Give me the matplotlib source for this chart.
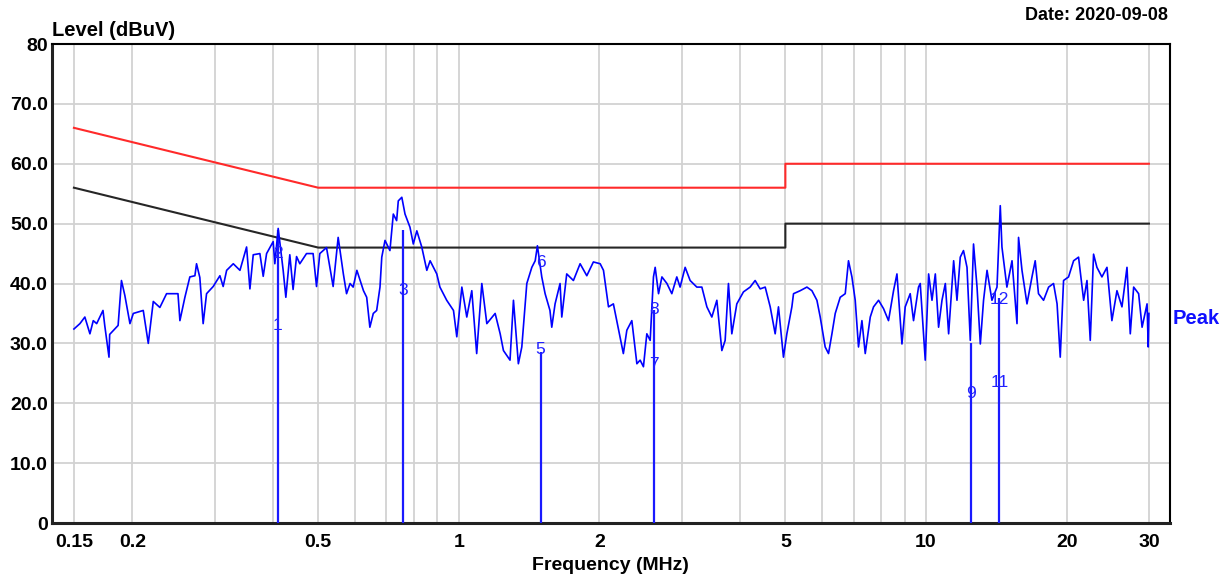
import matplotlib

matplotlib.use("Agg")
import matplotlib.pyplot as plt
from matplotlib.ticker import NullLocator

plt.rcParams["font.family"] = ["Liberation Sans", "DejaVu Sans"]

# measured peak trace (MHz, dBuV)
trace_freq = [
    0.150, 0.1545, 0.1583, 0.1623, 0.165, 0.1678, 0.1731, 0.1746, 0.1783, 0.1789,
    0.1865, 0.1896, 0.1928, 0.1977, 0.201, 0.2111, 0.2164, 0.2218, 0.2291, 0.2368,
    0.2505, 0.2529, 0.2592, 0.2656, 0.2723, 0.2745, 0.279, 0.2836, 0.2884, 0.298,
    0.308, 0.313, 0.3184, 0.329, 0.34, 0.3513, 0.3571, 0.363, 0.3751, 0.3813,
    0.3877, 0.4005, 0.4038, 0.4105, 0.4207, 0.4263, 0.4347, 0.4418, 0.4494, 0.4567,
    0.472, 0.4876, 0.4959, 0.504, 0.5209, 0.5382, 0.5517,
    0.566, 0.575, 0.585, 0.594, 0.605, 0.615, 0.625, 0.635, 0.645, 0.656,
    0.667, 0.678, 0.684, 0.695, 0.712, 0.724, 0.736, 0.742, 0.755, 0.767,
    0.786, 0.799, 0.813, 0.833, 0.854, 0.868, 0.897, 0.911, 0.942, 0.974,
    0.990, 1.015, 1.040, 1.066, 1.092, 1.120, 1.148, 1.196, 1.226, 1.246,
    1.287, 1.309, 1.341, 1.364, 1.398, 1.433, 1.457, 1.473, 1.505, 1.530,
    1.567, 1.581, 1.607, 1.647, 1.661, 1.702, 1.759, 1.818, 1.879, 1.941,
    2.007, 2.040, 2.091, 2.142, 2.178, 2.250, 2.289, 2.346, 2.405,
    2.444, 2.484, 2.526, 2.568, 2.610, 2.632, 2.676, 2.721, 2.789, 2.857,
    2.928, 2.976, 3.051, 3.127, 3.232, 3.313, 3.396, 3.480, 3.567, 3.656,
    3.716, 3.777, 3.840, 3.936, 4.067, 4.203, 4.308, 4.416, 4.527, 4.640,
    4.755, 4.833, 4.953, 5.037, 5.163, 5.205, 5.379, 5.560, 5.699, 5.841,
    5.937, 6.084, 6.185, 6.290, 6.393, 6.552, 6.716, 6.825, 6.941, 7.055,
    7.170, 7.292, 7.412, 7.598, 7.722, 7.916, 8.112, 8.313, 8.522, 8.666,
    8.882, 9.026, 9.251, 9.404, 9.638,
    9.720, 9.963, 10.13, 10.30, 10.47, 10.64, 10.82, 11.00, 11.18, 11.46,
    11.65, 11.84, 12.03, 12.24, 12.44, 12.64, 12.86, 13.07, 13.28, 13.51,
    13.84, 14.19, 14.42, 14.54, 14.90, 15.28, 15.66, 15.78, 16.05, 16.45,
    16.86, 17.13, 17.41, 17.85, 18.30, 18.75, 19.08, 19.38, 19.70, 20.19,
    20.70, 21.21, 21.75, 22.11, 22.47, 22.84, 23.22, 23.80, 24.40, 25.00,
    25.63, 26.27, 26.93, 27.37, 27.83, 28.52, 29.01, 29.73, 29.90, 30.00,
]
trace_level = [
    32.4, 33.3, 34.4, 31.6, 33.8, 33.3, 35.5, 33.0, 27.7, 31.5,
    33.0, 40.5, 38.0, 33.3, 35.0, 35.5, 30.0, 37.0, 36.0, 38.3,
    38.3, 33.8, 37.7, 41.1, 41.3, 43.3, 41.0, 33.3, 38.3, 39.5,
    41.3, 39.5, 42.2, 43.3, 42.2, 46.1, 39.1, 44.8, 45.0, 41.2,
    45.0, 47.0, 43.3, 49.2, 42.2, 37.7, 44.8, 39.0, 44.5, 43.3,
    45.0, 45.0, 39.5, 45.0, 46.0, 39.5, 47.7,
    41.6, 38.3, 40.0, 39.4, 42.2, 40.5, 38.8, 37.7, 32.7, 35.0,
    35.5, 39.4, 44.4, 47.2, 45.5, 51.6, 50.5, 53.8, 54.4, 51.6,
    49.4, 46.6, 48.8, 46.1, 42.2, 43.8, 41.6, 39.4, 37.2, 35.5,
    31.1, 39.4, 34.4, 38.8, 28.3, 40.0, 33.3, 35.0, 31.6, 28.8,
    27.2, 37.2, 26.6, 29.4, 40.0, 42.7, 43.8, 46.3, 41.1, 38.3,
    35.5, 32.7, 36.6, 40.0, 34.4, 41.6, 40.5, 43.3, 41.3, 43.6,
    43.3, 42.2, 36.1, 36.6, 33.8, 28.3, 32.2, 33.8, 26.6,
    27.2, 26.1, 31.6, 30.5, 41.1, 42.7, 38.3, 41.1, 40.0, 38.3,
    41.1, 39.4, 42.7, 40.5, 39.4, 39.4, 36.1, 34.4, 37.2, 28.8,
    30.5, 40.0, 31.6, 36.6, 38.6, 39.4, 40.5, 39.1, 39.4, 36.1,
    31.6, 36.1, 27.7, 31.6, 36.1, 38.3, 38.8, 39.4, 38.8, 37.2,
    34.4, 29.4, 28.3, 31.6, 35.0, 37.7, 38.3, 43.8, 41.1, 37.2,
    29.4, 33.8, 28.3, 34.4, 36.1, 37.2, 35.8, 33.8, 38.8, 41.6,
    29.9, 36.1, 38.3, 33.8, 39.4,
    40.0, 27.2, 41.6, 37.2, 41.6, 32.7, 37.2, 40.0, 31.6, 43.8,
    37.2, 44.4, 45.5, 42.7, 30.5, 46.6, 39.4, 29.9, 37.2, 42.2,
    37.2, 39.4, 53.0, 46.1, 39.4, 43.8, 33.3, 47.7, 42.2, 36.6,
    41.1, 43.8, 38.3, 37.2, 39.4, 40.0, 36.6, 27.7, 40.5, 41.1,
    43.8, 44.4, 37.2, 40.5, 30.5, 44.9, 42.7, 41.1, 42.7, 33.8,
    38.8, 36.1, 42.7, 31.6, 39.4, 38.3, 32.7, 36.6, 29.4, 35.0,
]

# limit lines
limit_freq = [0.15, 0.5, 5.0, 5.0, 30.0]
qp_limit = [66, 56, 56, 60, 60]
av_limit = [56, 46, 46, 50, 50]

# marker lines and their numbers
marker_line_freq = [0.410, 0.760, 1.496, 2.619, 12.5, 14.35]
marker_line_top = [49.0, 49.0, 28.5, 35.5, 30.0, 37.5]
marker_text = ["1", "2", "3", "5", "6", "7", "8", "9", "11", "12"]
marker_text_freq = [0.410, 0.410, 0.760, 1.496, 1.496, 2.619, 2.619, 12.5, 14.35, 14.35]
marker_text_level = [33.0, 45.0, 38.8, 29.0, 43.5, 26.5, 35.7, 21.7, 23.5, 37.3]

x_grid = [0.15, 0.2, 0.3, 0.4, 0.5, 0.6, 0.7, 0.8, 0.9, 1, 2, 3, 4, 5, 6, 7, 8, 9, 10, 20, 30]
x_labeled = {0.15: "0.15", 0.2: "0.2", 0.5: "0.5", 1: "1", 2: "2", 5: "5", 10: "10", 20: "20", 30: "30"}
y_ticks = [0, 10, 20, 30, 40, 50, 60, 70, 80]
y_labels = ["0", "10.0", "20.0", "30.0", "40.0", "50.0", "60.0", "70.0", "80"]

fig = plt.figure(figsize=(12.31, 5.79), dpi=100)
ax = fig.add_axes([0.0422, 0.0967, 0.9083, 0.8273])
ax.set_xscale("log")
ax.set_xlim(0.1346, 33.3)
ax.set_ylim(0, 80)

ax.set_xticks(x_grid)
ax.set_xticklabels([x_labeled.get(f, "") for f in x_grid], fontsize=14, fontweight="bold")
ax.xaxis.set_minor_locator(NullLocator())
ax.set_yticks(y_ticks)
ax.set_yticklabels(y_labels, fontsize=14, fontweight="bold")
ax.tick_params(axis="x", length=0, pad=8)
ax.tick_params(axis="y", length=0, pad=3)
ax.grid(True, color="#d2d2d2", linewidth=1.3)
ax.set_axisbelow(True)

for side in ["left", "bottom"]:
    ax.spines[side].set_linewidth(2.2)
    ax.spines[side].set_color("#222222")
for side in ["top", "right"]:
    ax.spines[side].set_linewidth(1.5)
    ax.spines[side].set_color("black")

ax.plot(limit_freq, qp_limit, color="#ff2a2a", linewidth=1.5, zorder=3)
ax.plot(limit_freq, av_limit, color="#262626", linewidth=1.5, zorder=3)

ax.vlines(marker_line_freq, 0, marker_line_top, color="#1a1aff", linewidth=1.6, zorder=4)
ax.plot(trace_freq, trace_level, color="#0000ff", linewidth=1.2, zorder=5)

for txt, f, lv in zip(marker_text, marker_text_freq, marker_text_level):
    ax.text(f, lv, txt, color="#2020ff", fontsize=12.5, ha="center", va="center", zorder=6)

ax.annotate("Peak", xy=(1.002, 34.2), xycoords=("axes fraction", "data"),
            color="#1010ff", fontsize=14.5, fontweight="bold", ha="left", va="center",
            annotation_clip=False)

fig.text(0.0422, 0.948, "Level (dBuV)", fontsize=14.5, fontweight="bold", ha="left", va="center")
fig.text(0.949, 0.974, "Date: 2020-09-08", fontsize=13, fontweight="bold", ha="right", va="center")
fig.text(0.496, 0.024, "Frequency (MHz)", fontsize=14, fontweight="bold", ha="center", va="center")

fig.savefig("out.png", dpi=100)
